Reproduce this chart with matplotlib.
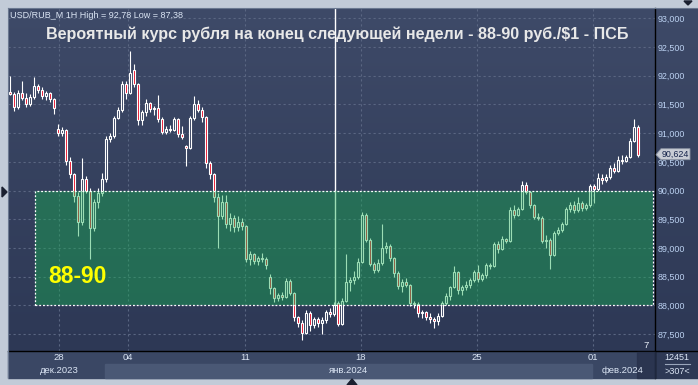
import matplotlib
matplotlib.use('Agg')
import matplotlib.pyplot as plt
import numpy as np
from matplotlib.patches import Rectangle, Polygon
from matplotlib.lines import Line2D
from matplotlib.colors import LinearSegmentedColormap

plt.rcParams['font.family'] = ['Liberation Sans', 'DejaVu Sans']

# USD/RUB_M, 1H candles
opens = [91.72, 91.68, 91.45, 91.70, 91.62, 91.50, 91.63, 91.82, 91.76, 91.64,
         91.70, 91.60, 91.08, 91.00, 91.05, 90.52, 90.28, 89.90, 89.45, 90.20,
         90.00, 89.35, 89.80, 89.95, 90.20, 90.90, 90.95, 91.26, 91.40, 91.85,
         91.70, 92.10, 91.85, 91.22, 91.36, 91.52, 91.42, 91.44, 91.25, 91.02,
         91.08, 91.06, 91.24, 90.98, 90.78, 90.74, 91.26, 91.50, 91.40, 91.28,
         90.48, 90.28, 89.88, 89.55, 89.80, 89.42, 89.52, 89.36, 89.45, 89.38,
         88.80, 88.90, 88.78, 88.82, 88.80, 88.50, 88.30, 88.12, 88.18, 88.15,
         88.42, 88.22, 87.80, 87.70, 87.52, 87.86, 87.66, 87.76, 87.70, 87.74,
         87.88, 87.84, 88.04, 87.68, 88.08, 88.40, 88.44, 88.50, 88.76, 89.58,
         89.14, 88.72, 88.62, 88.74, 89.00, 89.04, 88.82, 88.56, 88.34, 88.40,
         88.36, 88.04, 88.02, 87.86, 87.88, 87.80, 87.76, 87.72, 87.82, 88.04,
         88.16, 88.32, 88.58, 88.26, 88.32, 88.36, 88.44, 88.58, 88.46, 88.52,
         88.70, 88.68, 89.06, 88.98, 89.16, 89.12, 89.66, 89.58, 89.68, 90.10,
         89.98, 89.74, 89.54, 89.52, 89.12, 89.14, 88.88, 89.26, 89.32, 89.42,
         89.68, 89.74, 89.66, 89.78, 89.70, 89.74, 90.08, 90.02, 90.22, 90.18,
         90.24, 90.40, 90.34, 90.54, 90.52, 90.58, 90.86, 91.10]
highs = [92.00, 91.72, 91.75, 91.90, 91.70, 91.68, 91.97, 91.86, 91.80, 91.74,
         91.72, 91.62, 91.16, 91.10, 91.08, 90.58, 90.30, 89.98, 90.57, 90.25,
         90.05, 89.85, 90.05, 90.30, 90.95, 91.00, 91.30, 91.45, 91.90, 91.90,
         92.43, 92.20, 91.88, 91.40, 91.60, 91.55, 91.48, 91.66, 91.28, 91.12,
         91.14, 91.28, 91.26, 91.12, 90.80, 91.30, 91.65, 91.58, 91.45, 91.30,
         90.52, 90.30, 89.95, 89.92, 89.92, 89.60, 89.58, 89.55, 89.52, 89.40,
         88.95, 88.92, 88.86, 88.92, 88.84, 88.55, 88.32, 88.22, 88.24, 88.48,
         88.45, 88.24, 87.82, 87.74, 87.92, 87.90, 87.80, 87.80, 87.80, 87.92,
         87.95, 88.06, 88.08, 88.12, 88.90, 88.50, 88.60, 88.82, 89.62, 89.60,
         89.18, 88.76, 88.80, 89.42, 89.10, 89.06, 88.84, 88.60, 88.46, 88.48,
         88.38, 88.08, 88.05, 87.92, 87.90, 87.86, 87.80, 87.86, 88.08, 88.22,
         88.34, 88.68, 88.60, 88.36, 88.42, 88.48, 88.62, 88.70, 88.56, 88.74,
         88.74, 89.10, 89.12, 89.20, 89.18, 89.72, 89.74, 89.72, 90.16, 90.14,
         90.00, 89.76, 89.60, 89.55, 89.22, 89.18, 89.30, 89.36, 89.46, 89.72,
         89.80, 89.82, 89.88, 89.82, 89.78, 90.12, 90.12, 90.30, 90.28, 90.28,
         90.44, 90.48, 90.60, 90.62, 90.62, 90.92, 91.25, 91.14]
lows = [91.66, 91.38, 91.42, 91.58, 91.45, 91.48, 91.60, 91.70, 91.60, 91.58,
        91.55, 91.33, 90.95, 90.95, 90.45, 90.22, 89.80, 89.20, 89.40, 89.95,
        88.80, 89.30, 89.70, 89.90, 90.15, 90.85, 90.92, 91.24, 91.36, 91.60,
        91.68, 91.80, 91.15, 91.15, 91.30, 91.36, 91.32, 91.20, 90.98, 90.98,
        91.02, 91.04, 90.94, 90.90, 90.43, 90.72, 91.22, 91.36, 91.20, 90.40,
        90.20, 89.80, 89.00, 89.50, 89.35, 89.30, 89.28, 89.30, 89.32, 88.76,
        88.70, 88.72, 88.70, 88.76, 88.64, 88.20, 88.06, 88.08, 88.10, 88.12,
        88.18, 87.72, 87.62, 87.39, 87.50, 87.56, 87.60, 87.62, 87.50, 87.70,
        87.80, 87.82, 87.64, 87.66, 88.05, 88.25, 88.38, 88.45, 88.74, 89.10,
        88.68, 88.56, 88.58, 88.70, 88.92, 88.78, 88.50, 88.28, 88.24, 88.32,
        87.98, 87.95, 87.80, 87.78, 87.74, 87.70, 87.60, 87.66, 87.80, 88.00,
        88.10, 88.30, 88.20, 88.18, 88.26, 88.30, 88.40, 88.40, 88.42, 88.48,
        88.64, 88.66, 88.92, 88.96, 89.08, 89.10, 89.52, 89.55, 89.66, 89.94,
        89.70, 89.50, 89.48, 89.08, 89.00, 88.64, 88.86, 89.22, 89.28, 89.40,
        89.62, 89.60, 89.62, 89.64, 89.66, 89.72, 89.78, 90.00, 90.12, 90.14,
        90.20, 90.30, 90.32, 90.46, 90.50, 90.56, 90.84, 90.58]
closes = [91.68, 91.45, 91.70, 91.62, 91.50, 91.63, 91.82, 91.76, 91.64, 91.70,
          91.60, 91.44, 91.00, 91.05, 90.52, 90.28, 89.90, 89.45, 90.20, 90.00,
          89.35, 89.80, 89.95, 90.20, 90.90, 90.95, 91.26, 91.40, 91.85, 91.70,
          92.05, 91.85, 91.22, 91.36, 91.52, 91.42, 91.44, 91.25, 91.02, 91.08,
          91.06, 91.24, 90.98, 90.94, 90.74, 91.26, 91.50, 91.40, 91.28, 90.48,
          90.28, 89.88, 89.55, 89.80, 89.42, 89.52, 89.36, 89.45, 89.38, 88.80,
          88.90, 88.78, 88.82, 88.80, 88.70, 88.30, 88.12, 88.18, 88.15, 88.42,
          88.22, 87.80, 87.70, 87.52, 87.86, 87.66, 87.76, 87.70, 87.74, 87.88,
          87.84, 88.00, 87.68, 88.08, 88.40, 88.44, 88.50, 88.76, 89.58, 89.14,
          88.72, 88.62, 88.74, 89.00, 89.04, 88.82, 88.56, 88.34, 88.40, 88.36,
          88.04, 88.02, 87.86, 87.88, 87.80, 87.76, 87.72, 87.82, 88.04, 88.16,
          88.32, 88.58, 88.26, 88.32, 88.36, 88.44, 88.58, 88.46, 88.52, 88.70,
          88.68, 89.06, 88.98, 89.16, 89.12, 89.66, 89.58, 89.68, 90.10, 89.98,
          89.74, 89.54, 89.52, 89.12, 89.14, 88.88, 89.26, 89.32, 89.42, 89.68,
          89.74, 89.66, 89.78, 89.70, 89.74, 90.08, 90.02, 90.22, 90.18, 90.24,
          90.40, 90.34, 90.54, 90.52, 90.58, 90.86, 91.10, 90.62]

day_pos = [12.25, 29.5, 58.75, 87.75, 116.75, 145.75]
day_labels = ['28', '04', '11', '18', '25', '01']
month_labels = ['дек.2023', 'янв.2024', 'фев.2024']
price_ticks = [87.5, 88.0, 88.5, 89.0, 89.5, 90.0, 90.5, 91.0, 91.5, 92.0, 92.5, 93.0]
target_lo, target_hi = 88.0, 90.0
last_price = 90.624
title = 'Вероятный курс рубля на конец следующей недели - 88-90 руб./$1 - ПСБ'
info = 'USD/RUB_M 1H High = 92,78 Low = 87,38'

W, H = 698, 385
fig = plt.figure(figsize=(W / 100, H / 100), dpi=100)
fig.patch.set_facecolor('#c2cbd8')

def fx(px):
    return px / W

def fy(py):
    return 1 - py / H

def frect(x0, y0, x1, y1, **kw):
    fig.patches.append(Rectangle((fx(x0), fy(y1)), (x1 - x0) / W, (y1 - y0) / H,
                                 transform=fig.transFigure, **kw))

def fline(x0, y0, x1, y1, **kw):
    fig.lines.append(Line2D([fx(x0), fx(x1)], [fy(y0), fy(y1)],
                            transform=fig.transFigure, **kw))

# gradient background of the chart + price scale
bg = fig.add_axes([fx(8), fy(351), (698 - 8) / W, (351 - 8) / H])
grad = np.linspace(0, 1, 256).reshape(-1, 1)
cm = LinearSegmentedColormap.from_list('bgc', ['#3e4a68', '#2d3855'])
bg.imshow(grad, aspect='auto', cmap=cm, extent=[0, 1, 0, 1])
bg.set_axis_off()

# bottom time strip
frect(8, 351, 655, 378, color='#3a4764', zorder=0)
frect(105, 364, 592, 378, color='#4a5875', zorder=0)
frect(655, 351, 698, 378, color='#2e3955', zorder=0)

ax = fig.add_axes([fx(8), fy(351), (655 - 8) / W, (351 - 8) / H])
ax.patch.set_alpha(0)
for s in ax.spines.values():
    s.set_visible(False)

x = np.arange(len(closes))
ax.set_xlim(-0.5, 161.25)
ax.set_ylim(87.204, 93.18)

# grid
for p in price_ticks:
    ax.axhline(p, color='#5a6682', lw=0.8, ls=(0, (2, 2.5)), zorder=1)
for d in day_pos:
    ax.axvline(d, color='#5a6682', lw=0.8, ls=(0, (2, 2.5)), zorder=1)

# vertical marker line
ax.vlines(81.25, 88.0, 93.18, color='white', lw=1.0, zorder=2)

# candles
o = np.array(opens)
c = np.array(closes)
ax.vlines(x, lows, highs, color='white', lw=0.8, zorder=3)
up = c >= o
body_lo = np.minimum(o, c)
body_h = np.maximum(np.abs(c - o), 0.02)
ax.bar(x[up], body_h[up], bottom=body_lo[up], width=0.7, facecolor='#34405e',
       edgecolor='white', linewidth=0.8, zorder=4)
ax.bar(x[~up], body_h[~up], bottom=body_lo[~up], width=0.7, facecolor='#e8102a',
       edgecolor='white', linewidth=0.8, zorder=4)

# target zone
ax.add_patch(Rectangle((6.25, target_lo), 160.75 - 6.25, target_hi - target_lo,
                       facecolor='#14b050', alpha=0.42, edgecolor='none', zorder=5))
ax.add_patch(Rectangle((6.25, target_lo), 160.75 - 6.25, target_hi - target_lo,
                       facecolor='none', edgecolor='white', lw=0.9,
                       ls=(0, (1.5, 1.5)), zorder=6))
ax.text(9.5, 88.5, '88-90', color='#ffff00', fontsize=16.5, fontweight='bold',
        va='center', ha='left', zorder=7)

ax.set_xticks([])
ax.set_yticks([])

# texts
fig.text(fx(10), fy(15), info, color='#dce6f5', fontsize=6.5, va='center', ha='left')
fig.text(fx(337), fy(34), title, color='#e8e8e8', fontsize=11.6, fontweight='bold',
         va='center', ha='center')

ymin, ymax = ax.get_ylim()
for p in price_ticks:
    py = 8 + (ymax - p) / (ymax - ymin) * (351 - 8)
    fig.text(fx(658), fy(py + 1), f'{p:.3f}'.replace('.', ','), color='#bcd2f2',
             fontsize=6.4, va='center', ha='left')

# current price label
lp_y = 8 + (ymax - last_price) / (ymax - ymin) * (351 - 8)
fig.patches.append(Polygon([(fx(656), fy(lp_y)), (fx(661), fy(lp_y - 6)),
                            (fx(690), fy(lp_y - 6)), (fx(690), fy(lp_y + 5)),
                            (fx(661), fy(lp_y + 5))], closed=True,
                           transform=fig.transFigure, facecolor='#c9cdd5',
                           edgecolor='#8d95a5', lw=0.6, zorder=5))
fig.text(fx(662), fy(lp_y), f'{last_price:.3f}'.replace('.', ','), color='#15234a',
         fontsize=6.4, va='center', ha='left', zorder=6)

# time labels
for d, lab in zip(day_pos, day_labels):
    px = 8 + (d + 0.5) / (161.25 + 0.5) * (655 - 8)
    fig.text(fx(px), fy(358), lab, color='#dce6f5', fontsize=6.8, va='center', ha='center')
for px, lab in zip([59, 349, 623], month_labels):
    fig.text(fx(px), fy(370.5), lab, color='#dce6f5', fontsize=6.8, va='center', ha='center')
frect(637, 352, 655, 378, color='#26304a', alpha=0.75, zorder=3)
fig.text(fx(646), fy(345), '7', color='#e8eef8', fontsize=6.8, va='center', ha='center')

fig.text(fx(677), fy(357.5), '12451', color='#dce6f5', fontsize=6.5, va='center', ha='center')
fline(665, 364, 690, 364, color='#9aa6bb', lw=0.8)
fig.text(fx(677), fy(371), '>307<', color='#dce6f5', fontsize=6.5, va='center', ha='center')

# frame lines
fline(8, 351, 698, 351, color='black', lw=1.0)
fline(655, 8, 655, 378, color='black', lw=1.0)
fline(8, 8, 698, 8, color='#6a7890', lw=0.8)
fline(8, 8, 8, 378, color='#6a7890', lw=0.8)

# small navigation triangles
fig.patches.append(Polygon([(fx(2), fy(187)), (fx(2), fy(197)), (fx(7), fy(192))],
                           transform=fig.transFigure, color='#1a2030'))
fig.patches.append(Polygon([(fx(347), fy(385)), (fx(357), fy(385)), (fx(352), fy(379))],
                           transform=fig.transFigure, color='#1a2030'))
fig.patches.append(Polygon([(fx(684), fy(1)), (fx(692), fy(1)), (fx(688), fy(5))],
                           transform=fig.transFigure, color='#1a2030'))

fig.savefig('out.png', dpi=100, facecolor=fig.get_facecolor())
